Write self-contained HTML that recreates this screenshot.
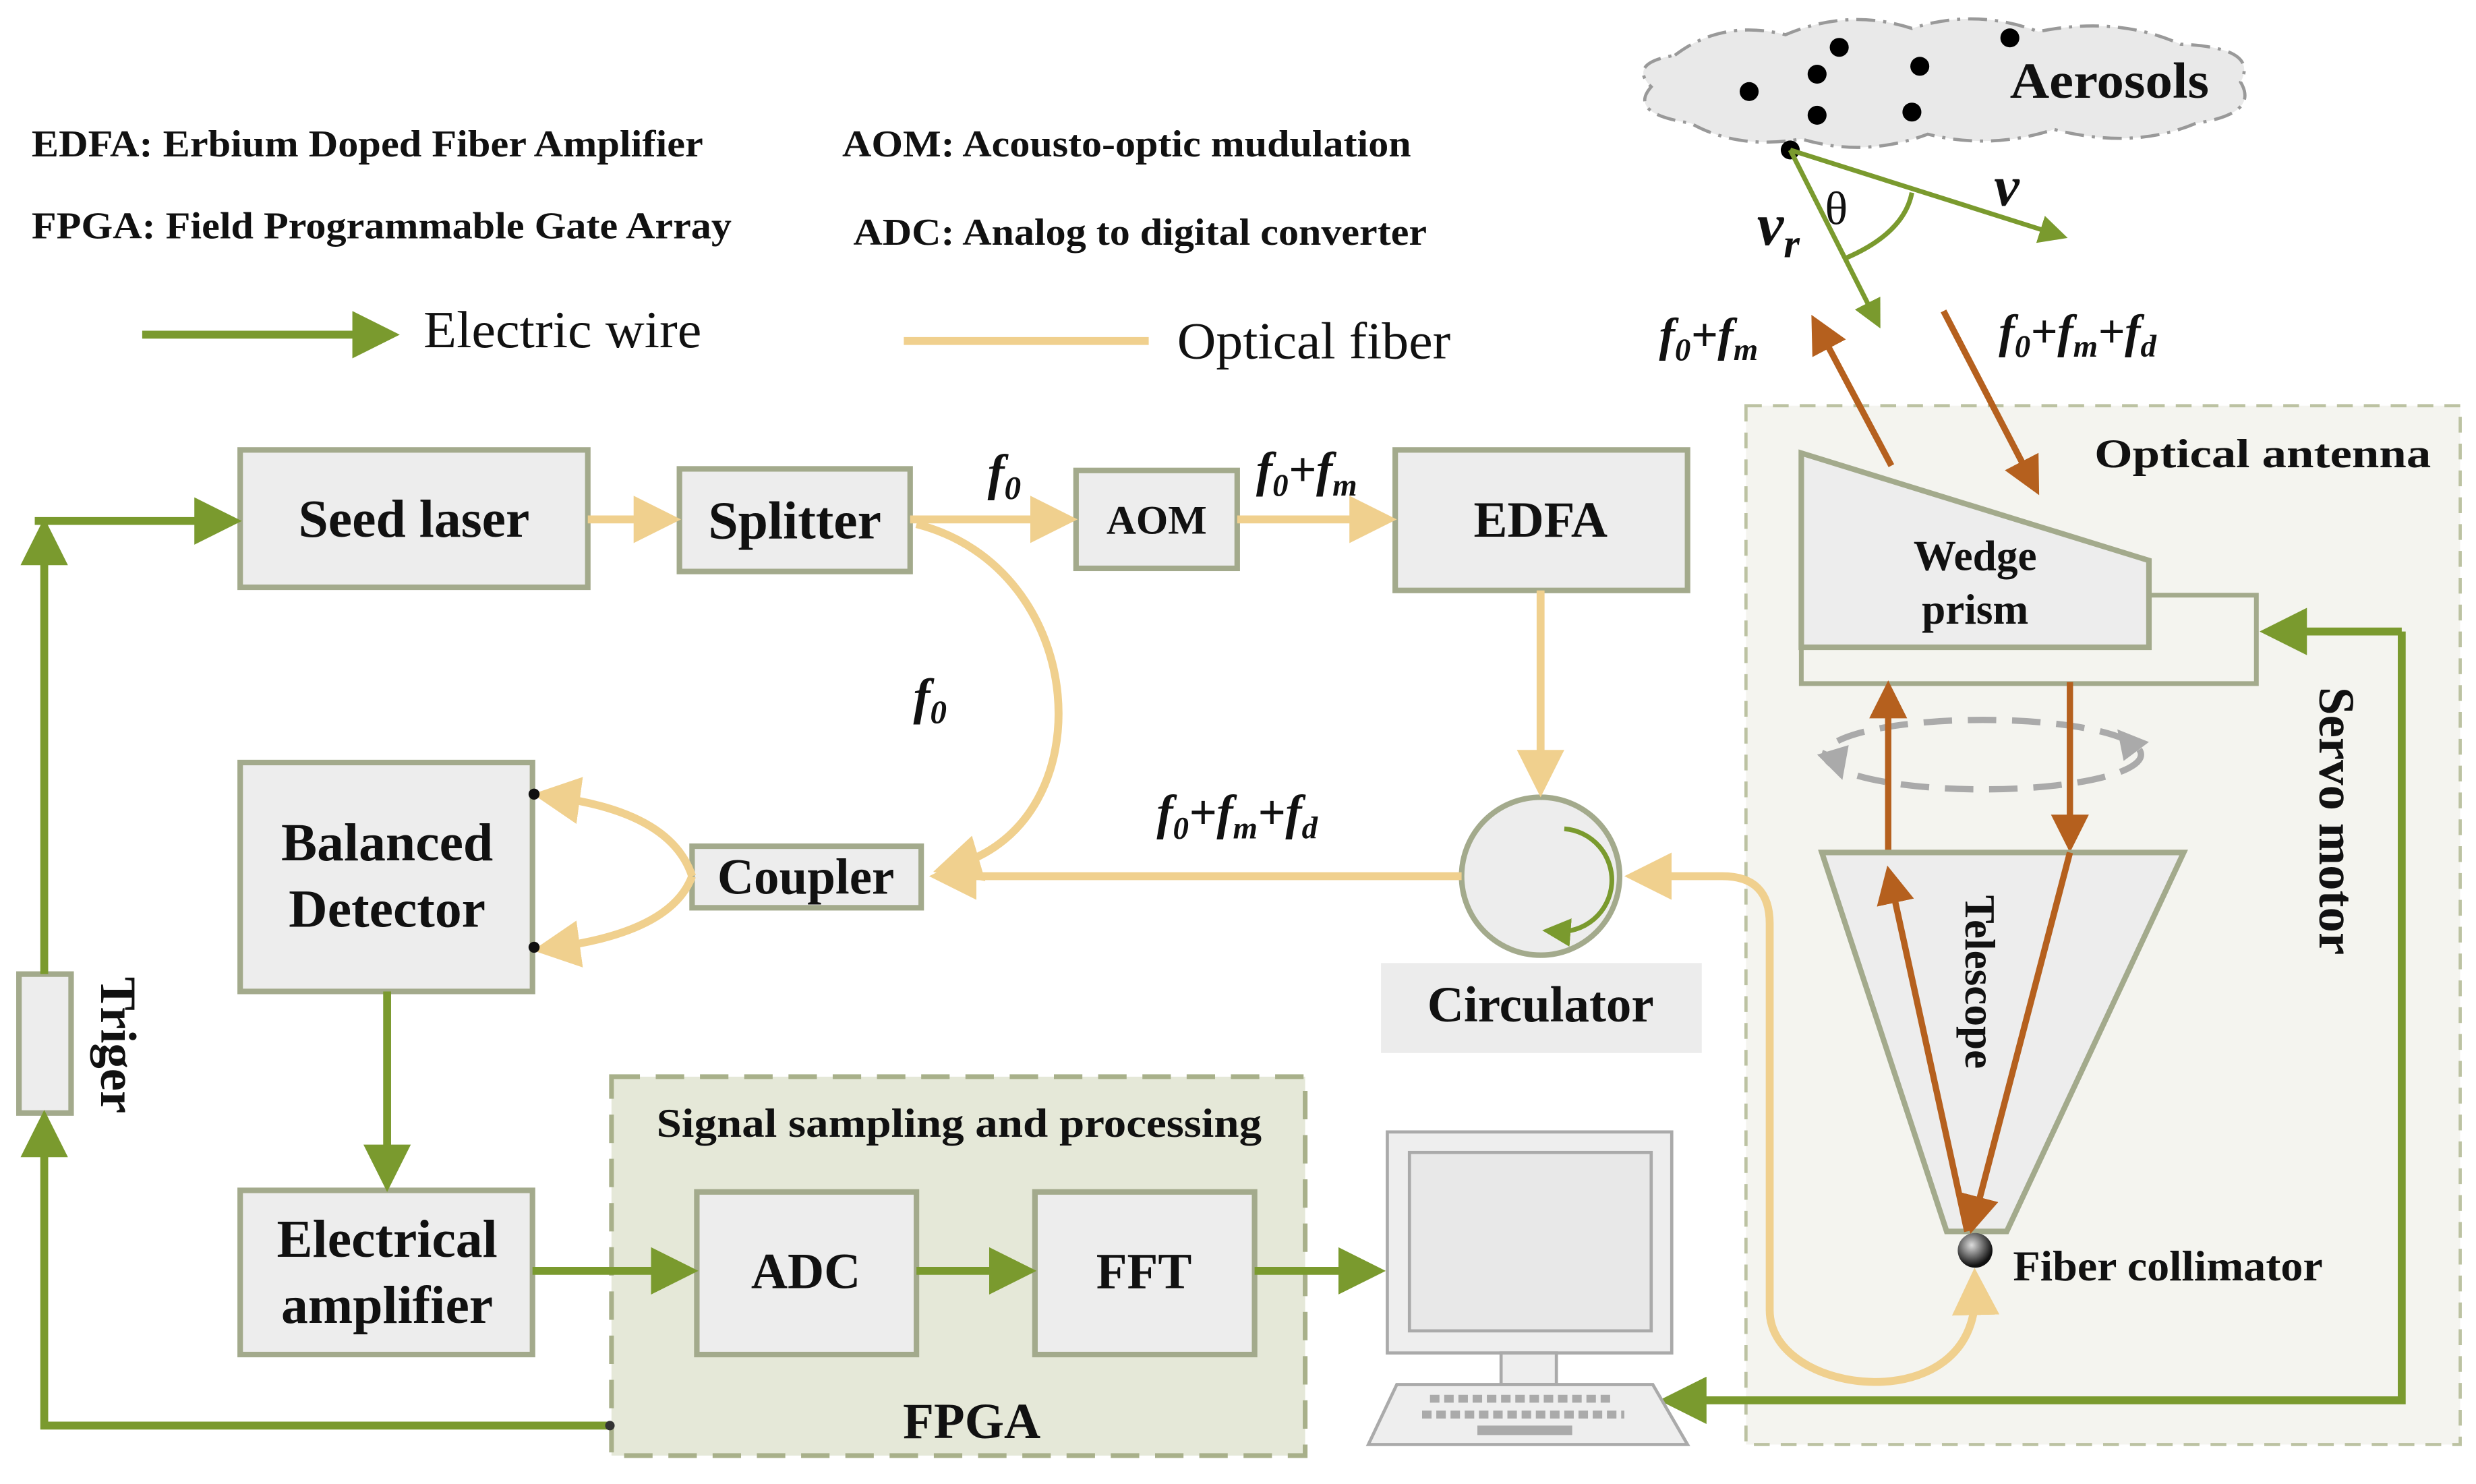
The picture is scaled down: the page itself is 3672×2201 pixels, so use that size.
<!DOCTYPE html>
<html><head><meta charset="utf-8"><style>
html,body{margin:0;padding:0;background:#fff;}
svg{display:block;}
text{font-family:"Liberation Serif",serif;fill:#111;}
.b{font-weight:bold;}
.bx{fill:#ededed;stroke:#a3aa8c;stroke-width:3.5;}
.g{stroke:#7a9a2e;stroke-width:5;fill:none;}
.o{stroke:#f0d08e;stroke-width:5;fill:none;}
.br{stroke:#b5601e;stroke-width:4;fill:none;}
</style></head><body>
<svg width="3672" height="2201" viewBox="0 0 1567 940" preserveAspectRatio="none" xmlns="http://www.w3.org/2000/svg">
<defs>
<marker id="ag" markerWidth="6" markerHeight="6" refX="3" refY="3" orient="auto" markerUnits="strokeWidth"><path d="M0,0 L6,3 L0,6 z" fill="#7a9a2e"/></marker>
<marker id="ao" markerWidth="6" markerHeight="6" refX="3" refY="3" orient="auto-start-reverse" markerUnits="strokeWidth"><path d="M0,0 L6,3 L0,6 z" fill="#f0d08e"/></marker>
<marker id="ab" markerWidth="6" markerHeight="6" refX="3" refY="3" orient="auto" markerUnits="strokeWidth"><path d="M0,0 L6,3 L0,6 z" fill="#b5601e"/></marker>
<radialGradient id="ball" cx="0.4" cy="0.35" r="0.6"><stop offset="0" stop-color="#ddd"/><stop offset="1" stop-color="#111"/></radialGradient>
</defs>

<!-- legend -->
<text x="20" y="99" font-size="24" class="b" textLength="425" lengthAdjust="spacingAndGlyphs">EDFA: Erbium Doped Fiber Amplifier</text>
<text x="20" y="151" font-size="24" class="b" textLength="443" lengthAdjust="spacingAndGlyphs">FPGA: Field Programmable Gate Array</text>
<text x="533" y="99" font-size="24" class="b" textLength="360" lengthAdjust="spacingAndGlyphs">AOM: Acousto-optic mudulation</text>
<text x="540" y="155" font-size="24" class="b" textLength="363" lengthAdjust="spacingAndGlyphs">ADC: Analog to digital converter</text>
<line x1="90" y1="212" x2="238" y2="212" class="g" marker-end="url(#ag)"/>
<text x="268" y="220" font-size="33" textLength="176" lengthAdjust="spacingAndGlyphs">Electric wire</text>
<line x1="572" y1="216" x2="727" y2="216" class="o" stroke-width="6"/>
<text x="745" y="227" font-size="33" textLength="173" lengthAdjust="spacingAndGlyphs">Optical fiber</text>

<!-- dashed areas -->
<rect x="1105" y="257" width="452" height="658" fill="#f4f4ef" stroke="#bcc2a2" stroke-width="2" stroke-dasharray="10,7"/>
<rect x="387" y="682" width="439" height="240" fill="#e5e8d8" stroke="#a8b08a" stroke-width="3" stroke-dasharray="18,10"/>
<text x="607" y="720" font-size="26" class="b" text-anchor="middle" textLength="383" lengthAdjust="spacingAndGlyphs">Signal sampling and processing</text>
<text x="615" y="911" font-size="32" class="b" text-anchor="middle">FPGA</text>
<text x="1432" y="296" font-size="26" class="b" text-anchor="middle" textLength="213" lengthAdjust="spacingAndGlyphs">Optical antenna</text>

<!-- cloud -->
<path d="M1060,35 Q1090,12 1130,22 Q1170,5 1210,18 Q1250,5 1290,20 Q1340,10 1380,28 Q1430,30 1418,52 Q1430,72 1390,78 Q1350,95 1300,82 Q1260,95 1220,85 Q1180,100 1140,88 Q1100,95 1070,78 Q1030,72 1045,55 Q1030,40 1060,35 z" fill="#e9e9e9" stroke="#999" stroke-width="2" stroke-dasharray="12,5,2,5"/>
<g fill="#000"><circle cx="1107" cy="58" r="6"/><circle cx="1164" cy="30" r="6"/><circle cx="1150" cy="47" r="6"/><circle cx="1215" cy="42" r="6"/><circle cx="1272" cy="24" r="6"/><circle cx="1150" cy="73" r="6"/><circle cx="1210" cy="71" r="6"/><circle cx="1133" cy="95" r="6"/></g>
<text x="1335" y="62" font-size="32" class="b" text-anchor="middle" textLength="126" lengthAdjust="spacingAndGlyphs">Aerosols</text>
<line x1="1133" y1="95" x2="1300" y2="148" stroke="#7a9a2e" stroke-width="3" marker-end="url(#ag)"/>
<line x1="1133" y1="95" x2="1186" y2="200" stroke="#7a9a2e" stroke-width="3" marker-end="url(#ag)"/>
<path d="M1167,164 Q1205,148 1210,122" stroke="#7a9a2e" stroke-width="3" fill="none"/>
<text x="1155" y="142" font-size="30" font-family="Liberation Sans">θ</text>
<text x="1262" y="130" font-size="36" class="b" font-style="italic">v</text>
<text x="1112" y="155" font-size="38" class="b" font-style="italic">v<tspan font-size="26" dy="8">r</tspan></text>

<line x1="1197" y1="295" x2="1152" y2="210" class="br" marker-end="url(#ab)"/>
<line x1="1230" y1="197" x2="1285" y2="303" class="br" marker-end="url(#ab)"/>
<text x="1050" y="222" font-size="30" font-style="italic" class="b">f<tspan font-size="20" dy="6">0</tspan><tspan dy="-6">+f</tspan><tspan font-size="20" dy="6">m</tspan></text>
<text x="1265" y="220" font-size="30" font-style="italic" class="b">f<tspan font-size="20" dy="6">0</tspan><tspan dy="-6">+f</tspan><tspan font-size="20" dy="6">m</tspan><tspan dy="-6">+f</tspan><tspan font-size="20" dy="6">d</tspan></text>

<!-- wedge prism -->
<rect x="1140" y="377" width="288" height="56" fill="#f4f4ef" stroke="#a3aa8c" stroke-width="3"/>
<polygon points="1140,287 1360,355 1360,410 1140,410" class="bx"/>
<text x="1250" y="361" font-size="27" class="b" text-anchor="middle">Wedge</text>
<text x="1250" y="395" font-size="27" class="b" text-anchor="middle">prism</text>

<!-- rotation ellipse -->
<ellipse cx="1255" cy="478" rx="100" ry="22" fill="none" stroke="#aaa" stroke-width="4" stroke-dasharray="18,10"/>
<polygon points="1150,478 1170,472 1166,494" fill="#aaa"/>
<polygon points="1360,470 1340,462 1344,482" fill="#aaa"/>
<line x1="1195" y1="540" x2="1195" y2="443" class="br" marker-end="url(#ab)"/>
<line x1="1310" y1="432" x2="1310" y2="528" class="br" marker-end="url(#ab)"/>

<!-- telescope -->
<polygon points="1153,540 1382,540 1270,780 1232,780" class="bx"/>
<line x1="1245" y1="780" x2="1197" y2="560" class="br" marker-end="url(#ab)"/>
<line x1="1310" y1="540" x2="1250" y2="770" class="br" marker-end="url(#ab)"/>
<text transform="translate(1244,622) rotate(90)" font-size="27" class="b" text-anchor="middle">Telescope</text>
<circle cx="1250" cy="792" r="11" fill="url(#ball)"/>
<text x="1274" y="811" font-size="27" class="b" textLength="196" lengthAdjust="spacingAndGlyphs">Fiber collimator</text>
<text transform="translate(1468,520) rotate(90)" font-size="32" class="b" text-anchor="middle">Servo motor</text>

<!-- servo wire -->
<polyline points="1520,400 1520,887 1065,887" class="g" marker-end="url(#ag)"/>
<polyline points="1520,400 1445,400" class="g" marker-end="url(#ag)"/>

<!-- boxes -->
<rect x="152" y="285" width="220" height="87" class="bx"/>
<text x="262" y="340" font-size="34" class="b" text-anchor="middle">Seed laser</text>
<rect x="430" y="297" width="146" height="65" class="bx"/>
<text x="503" y="341" font-size="34" class="b" text-anchor="middle">Splitter</text>
<rect x="681" y="298" width="102" height="62" class="bx"/>
<text x="732" y="338" font-size="26" class="b" text-anchor="middle">AOM</text>
<rect x="883" y="285" width="185" height="89" class="bx"/>
<text x="975" y="340" font-size="32" class="b" text-anchor="middle">EDFA</text>
<rect x="152" y="483" width="185" height="145" class="bx"/>
<text x="245" y="545" font-size="34" class="b" text-anchor="middle">Balanced</text>
<text x="245" y="587" font-size="34" class="b" text-anchor="middle">Detector</text>
<rect x="438" y="536" width="145" height="39" class="bx"/>
<text x="510" y="566" font-size="32" class="b" text-anchor="middle">Coupler</text>
<circle cx="975" cy="555" r="50" class="bx"/>
<path d="M990,525 A30,30 0 0 1 985,590" stroke="#7a9a2e" stroke-width="3" fill="none" marker-end="url(#ag)"/>
<rect x="874" y="610" width="203" height="57" fill="#ececec"/>
<text x="975" y="647" font-size="32" class="b" text-anchor="middle">Circulator</text>
<rect x="152" y="754" width="185" height="104" class="bx"/>
<text x="245" y="796" font-size="34" class="b" text-anchor="middle">Electrical</text>
<text x="245" y="838" font-size="34" class="b" text-anchor="middle">amplifier</text>
<rect x="441" y="755" width="139" height="103" class="bx"/>
<text x="510" y="816" font-size="32" class="b" text-anchor="middle">ADC</text>
<rect x="655" y="755" width="139" height="103" class="bx"/>
<text x="724" y="816" font-size="32" class="b" text-anchor="middle">FFT</text>

<!-- computer -->
<rect x="878" y="717" width="180" height="140" fill="#eee" stroke="#aaa" stroke-width="2"/>
<rect x="892" y="730" width="153" height="113" fill="#e8e8e8" stroke="#aaa" stroke-width="2"/>
<rect x="950" y="857" width="35" height="20" fill="#eee" stroke="#aaa" stroke-width="2"/>
<polygon points="884,877 1046,877 1068,915 866,915" fill="#eee" stroke="#aaa" stroke-width="2"/>
<g stroke="#aaa" stroke-width="5" stroke-dasharray="6,3"><line x1="905" y1="886" x2="1020" y2="886"/><line x1="900" y1="896" x2="1028" y2="896"/></g>
<rect x="935" y="903" width="60" height="6" fill="#aaa"/>

<!-- trigger -->
<rect x="12" y="617" width="33" height="88" class="bx"/>
<text transform="translate(64,662) rotate(90)" font-size="32" class="b" text-anchor="middle">Triger</text>

<!-- wires -->
<polyline points="386,903 28,903 28,718" class="g" marker-end="url(#ag)"/>
<polyline points="28,617 28,343" class="g" marker-end="url(#ag)"/>
<polyline points="22,330 138,330" class="g" marker-end="url(#ag)"/>
<circle cx="386" cy="903" r="3" fill="#333"/>
<line x1="245" y1="628" x2="245" y2="740" class="g" marker-end="url(#ag)"/>
<line x1="337" y1="805" x2="427" y2="805" class="g" marker-end="url(#ag)"/>
<line x1="580" y1="805" x2="641" y2="805" class="g" marker-end="url(#ag)"/>
<line x1="794" y1="805" x2="862" y2="805" class="g" marker-end="url(#ag)"/>

<!-- fibers -->
<line x1="372" y1="329" x2="416" y2="329" class="o" marker-end="url(#ao)"/>
<line x1="576" y1="329" x2="667" y2="329" class="o" marker-end="url(#ao)"/>
<line x1="783" y1="329" x2="869" y2="329" class="o" marker-end="url(#ao)"/>
<path d="M580,332 C690,360 700,520 605,548" class="o" marker-end="url(#ao)"/>
<line x1="975" y1="374" x2="975" y2="490" class="o" marker-end="url(#ao)"/>
<line x1="925" y1="555" x2="603" y2="555" class="o" marker-end="url(#ao)"/>
<path d="M438,555 Q425,515 352,505" class="o" marker-end="url(#ao)"/>
<path d="M438,555 Q425,590 352,600" class="o" marker-end="url(#ao)"/>
<circle cx="338" cy="503" r="3.5" fill="#111"/><circle cx="338" cy="600" r="3.5" fill="#111"/>
<path d="M1250,818 C1252,900 1120,885 1120,830 L1120,585 Q1120,555 1090,555 L1043,555" class="o" marker-start="url(#ao)" marker-end="url(#ao)"/>

<text x="625" y="310" font-size="32" font-style="italic" class="b">f<tspan font-size="21" dy="6">0</tspan></text>
<text x="578" y="452" font-size="32" font-style="italic" class="b">f<tspan font-size="21" dy="6">0</tspan></text>
<text x="795" y="308" font-size="31" font-style="italic" class="b">f<tspan font-size="20" dy="6">0</tspan><tspan dy="-6">+f</tspan><tspan font-size="20" dy="6">m</tspan></text>
<text x="732" y="525" font-size="31" font-style="italic" class="b">f<tspan font-size="20" dy="6">0</tspan><tspan dy="-6">+f</tspan><tspan font-size="20" dy="6">m</tspan><tspan dy="-6">+f</tspan><tspan font-size="20" dy="6">d</tspan></text>
</svg>
</body></html>
